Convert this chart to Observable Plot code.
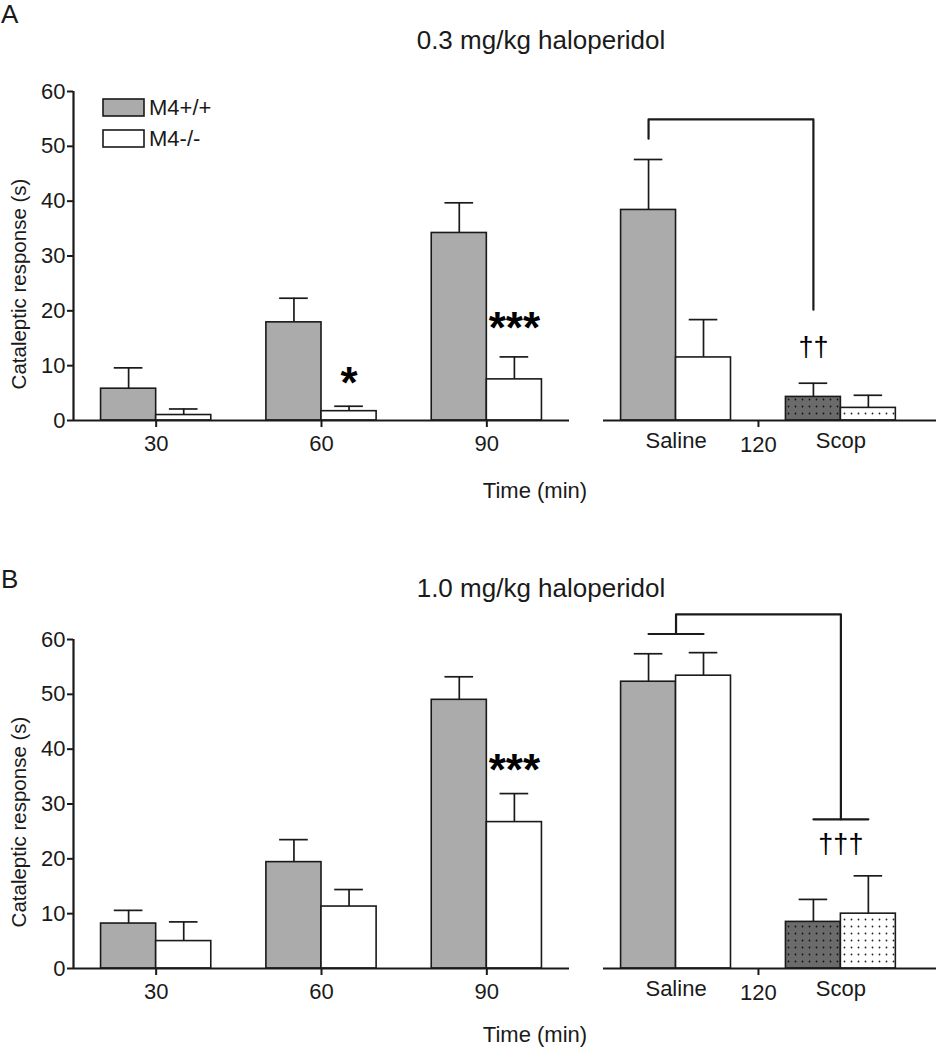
<!DOCTYPE html>
<html><head><meta charset="utf-8">
<script src="https://cdn.jsdelivr.net/npm/d3@7"></script>
<script src="https://cdn.jsdelivr.net/npm/@observablehq/plot@0.6"></script>
<style>
body{margin:0;background:#fff}
#root{position:relative;width:936px;height:1050px;overflow:hidden;background:#fff;font-family:"Liberation Sans",Arial,sans-serif}
.box{position:absolute}
</style></head><body><div id="root"></div>
<script>
// ---------- data ----------
const times = [30, 60, 90];
const yTicks = [0, 10, 20, 30, 40, 50, 60];
const genotypes = ["M4+/+", "M4-/-"];
const treatments = ["Saline", "Scop"];
const tick120 = [120];

// Panel A: 0.3 mg/kg haloperidol
const aWT = [5.8, 17.9, 34.2];
const aWTsem = [3.8, 4.4, 5.5];
const aKO = [1.0, 1.7, 7.5];
const aKOsem = [1.1, 0.9, 4.1];
const aWT120 = [38.4, 4.3];     // Saline, Scop
const aWT120sem = [9.2, 2.5];
const aKO120 = [11.5, 2.3];
const aKO120sem = [6.9, 2.3];
const aStars = [{x: 65, y: 4.1, t: "*"}, {x: 95, y: 14.2, t: "***"}];
const aDaggers = [{x: 130, y: 11.7, t: "††"}];
const aBracket = [
  {id: 1, x: 100, y: 51.4}, {id: 1, x: 100, y: 54.9}, {id: 1, x: 130, y: 54.9}, {id: 1, x: 130, y: 20.2}
];

// Panel B: 1.0 mg/kg haloperidol
const bWT = [8.2, 19.4, 49.0];
const bWTsem = [2.4, 4.1, 4.2];
const bKO = [5.0, 11.3, 26.7];
const bKOsem = [3.5, 3.1, 5.2];
const bWT120 = [52.3, 8.5];
const bWT120sem = [5.1, 4.1];
const bKO120 = [53.4, 10.0];
const bKO120sem = [4.2, 6.9];
const bStars = [{x: 95, y: 33.5, t: "***"}];
const bDaggers = [{x: 135, y: 21.0, t: "†††"}];
const bBracket = [
  {id: 1, x: 105, y: 61.0}, {id: 1, x: 105, y: 64.6}, {id: 1, x: 135, y: 64.6}, {id: 1, x: 135, y: 27.2},
  {id: 2, x: 100, y: 61.0}, {id: 2, x: 110, y: 61.0},
  {id: 3, x: 130, y: 27.2}, {id: 3, x: 140, y: 27.2}
];

// ---------- layout ----------
const FONT = "Liberation Sans, Arial, sans-serif";
const INK = "#1a1a1a";
const GRAY = "#ababab";
const LABEL = 22;
const root = document.getElementById("root");

root.insertAdjacentHTML("beforeend", `<svg width="0" height="0" style="position:absolute"><defs>
<pattern id="dotDark" width="7" height="7" patternUnits="userSpaceOnUse"><rect width="7" height="7" fill="#6b6b6b"/><circle cx="3.5" cy="3.5" r="0.9" fill="#111"/></pattern>
<pattern id="dotLight" width="7" height="7" patternUnits="userSpaceOnUse"><rect width="7" height="7" fill="#fff"/><circle cx="3.5" cy="3.5" r="0.9" fill="#222"/></pattern>
</defs></svg>`);

function put(node, left, top, width) {
  const d = document.createElement("div");
  d.className = "box";
  d.style.left = left + "px"; d.style.top = top + "px"; d.style.width = width + "px";
  d.appendChild(node);
  root.appendChild(d);
}

const baseStyle = {fontFamily: FONT, fontSize: LABEL + "px", color: INK, background: "transparent", overflow: "visible"};

function barRows(keys, wt, wtSem, ko, koSem, pos) {
  const rows = [];
  keys.forEach((k, i) => {
    const p = pos(k, i);
    rows.push({g: genotypes[0], k, x1: p - 10, x2: p, xc: p - 5, y0: 0, y: wt[i], e: wt[i] + wtSem[i]});
    rows.push({g: genotypes[1], k, x1: p, x2: p + 10, xc: p + 5, y0: 0, y: ko[i], e: ko[i] + koSem[i]});
  });
  rows.forEach(r => { r.c1 = r.xc - 2.6; r.c2 = r.xc + 2.6; });
  return rows;
}

function errorMarks(rows) {
  return [
    Plot.ruleX(rows, {x: "xc", y1: "y", y2: "e", stroke: INK, strokeWidth: 1.7}),
    Plot.ruleY(rows, {y: "e", x1: "c1", x2: "c2", stroke: INK, strokeWidth: 1.7})
  ];
}

function leftPlot(wt, wtSem, ko, koSem, stars) {
  const rows = barRows(times, wt, wtSem, ko, koSem, t => t);
  return Plot.plot({
    width: 600, height: 400, marginLeft: 73, marginRight: 31, marginTop: 31, marginBottom: 40,
    x: {domain: [15, 105], axis: null},
    y: {domain: [0, 60], axis: null},
    style: baseStyle,
    marks: [
      ...errorMarks(rows),
      Plot.rect(rows.filter(r => r.g === genotypes[0]), {x1: "x1", x2: "x2", y1: "y0", y2: "y", fill: GRAY, stroke: INK, strokeWidth: 1.6}),
      Plot.rect(rows.filter(r => r.g === genotypes[1]), {x1: "x1", x2: "x2", y1: "y0", y2: "y", fill: "#fff", stroke: INK, strokeWidth: 1.6}),
      Plot.ruleY([0], {stroke: INK, strokeWidth: 2.2}),
      Plot.ruleX([15], {y1: 0, y2: 60, stroke: INK, strokeWidth: 2.2}),
      Plot.axisX({ticks: times, tickSize: 7, tickPadding: 8, tickFormat: d => String(d), strokeWidth: 2, label: null, fill: INK, fontSize: LABEL}),
      Plot.axisY({ticks: yTicks, tickSize: 6, tickPadding: 2, tickFormat: d => String(d), strokeWidth: 2, label: null, fill: INK, fontSize: LABEL}),
      Plot.text(stars, {x: "x", y: "y", text: "t", lineAnchor: "bottom", fontSize: 44, fontWeight: "bold", fill: "#000"})
    ]
  });
}

function rightPlot(wt, wtSem, ko, koSem, bracket, daggers) {
  const rows = barRows(treatments, wt, wtSem, ko, koSem, (k, i) => tick120[0] + (i === 0 ? -15 : 15));
  const fills = [
    [r => r.k === "Saline" && r.g === genotypes[0], GRAY],
    [r => r.k === "Saline" && r.g === genotypes[1], "#fff"],
    [r => r.k === "Scop" && r.g === genotypes[0], "url(#dotDark)"],
    [r => r.k === "Scop" && r.g === genotypes[1], "url(#dotLight)"]
  ];
  const labels = treatments.map((k, i) => ({k, x: tick120[0] + (i === 0 ? -15 : 15), y: 0}));
  return Plot.plot({
    width: 333, height: 400, marginLeft: 0, marginRight: 0, marginTop: 31, marginBottom: 40,
    x: {domain: [91.8, 152.4], axis: null},
    y: {domain: [0, 60], axis: null},
    style: baseStyle,
    marks: [
      ...errorMarks(rows),
      ...fills.map(([f, c]) => Plot.rect(rows.filter(f), {x1: "x1", x2: "x2", y1: "y0", y2: "y", fill: c, stroke: INK, strokeWidth: 1.6})),
      Plot.ruleY([0], {stroke: INK, strokeWidth: 2.2}),
      Plot.axisX({ticks: tick120, tickSize: 7, tickPadding: 9, tickFormat: d => String(d), strokeWidth: 2, label: null, fill: INK, fontSize: LABEL}),
      Plot.text(labels, {x: "x", y: "y", text: "k", lineAnchor: "top", dy: 12, fill: INK, fontSize: LABEL}),
      Plot.line(bracket, {x: "x", y: "y", z: "id", stroke: INK, strokeWidth: 2.2, curve: "linear"}),
      Plot.text(daggers, {x: "x", y: "y", text: "t", lineAnchor: "bottom", fontSize: 27, fill: "#000"})
    ]
  });
}

// Panel A plots (x-axis baseline at y=420)
put(leftPlot(aWT, aWTsem, aKO, aKOsem, aStars), 0, 60, 600);
put(rightPlot(aWT120, aWT120sem, aKO120, aKO120sem, aBracket, aDaggers), 603, 60, 333);
// Panel B plots (x-axis baseline at y=968)
put(leftPlot(bWT, bWTsem, bKO, bKOsem, bStars), 0, 608, 600);
put(rightPlot(bWT120, bWT120sem, bKO120, bKO120sem, bBracket, bDaggers), 603, 608, 333);

// ---------- text overlay: panel letters, titles, axis titles, legend ----------
const svg = d3.select(root).append("svg")
  .attr("width", 936).attr("height", 1050)
  .style("position", "absolute").style("left", 0).style("top", 0)
  .style("pointer-events", "none")
  .attr("font-family", FONT).attr("fill", INK);

const texts = [
  {t: "A", x: 1, y: 23, s: 26, a: "start"},
  {t: "0.3 mg/kg haloperidol", x: 541, y: 49, s: 26, a: "middle"},
  {t: "Time (min)", x: 535, y: 498, s: LABEL, a: "middle"},
  {t: "B", x: 1, y: 588, s: 26, a: "start"},
  {t: "1.0 mg/kg haloperidol", x: 541, y: 597, s: 26, a: "middle"},
  {t: "Time (min)", x: 535, y: 1042, s: LABEL, a: "middle"}
];
svg.selectAll("text.t").data(texts).join("text")
  .attr("x", d => d.x).attr("y", d => d.y)
  .attr("font-size", d => d.s).attr("text-anchor", d => d.a).text(d => d.t);

[284, 822].forEach(cy => {
  svg.append("text").attr("transform", `translate(26,${cy}) rotate(-90)`)
    .attr("text-anchor", "middle").attr("font-size", 20.5).text("Cataleptic response (s)");
});

// legend (panel A)
const legend = [{g: genotypes[0], fill: GRAY, y: 99}, {g: genotypes[1], fill: "#fff", y: 130}];
const lg = svg.append("g");
lg.selectAll("rect").data(legend).join("rect")
  .attr("x", 103).attr("y", d => d.y).attr("width", 41).attr("height", 17)
  .attr("fill", d => d.fill).attr("stroke", INK).attr("stroke-width", 1.6);
lg.selectAll("text").data(legend).join("text")
  .attr("x", 149).attr("y", d => d.y + 16).attr("font-size", LABEL).text(d => d.g);
</script></body></html>
